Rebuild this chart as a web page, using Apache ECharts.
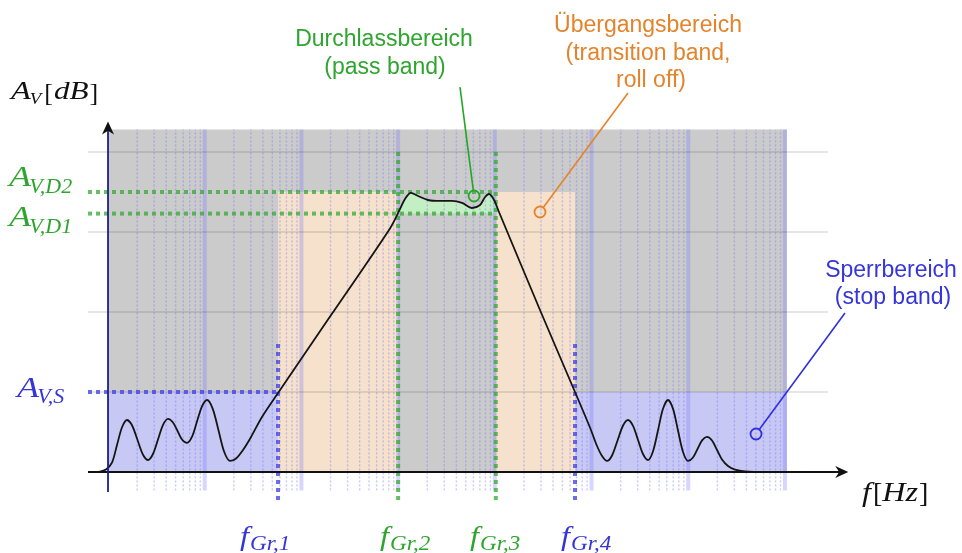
<!DOCTYPE html>
<html><head><meta charset="utf-8">
<script src="https://cdn.jsdelivr.net/npm/echarts@6/dist/echarts.min.js"></script>
<style>html,body{margin:0;padding:0;background:#fff}#c{width:962px;height:553px}</style>
</head><body><div id="c"></div>
<script>
// ---------------- data (log10 frequency, gain in grid units) ----------------
const curveLogF = [-0.207,-0.083,-0.021,0.041,0.093,0.145,0.196,0.248,0.305,0.362,0.414,0.465,0.517,0.569,0.620,0.672,0.719,0.765,0.817,0.869,0.920,0.972,1.024,1.083,1.143,1.202,1.262,1.324,1.396,1.479,1.592,1.758,2.296,2.916,
  3.020,3.071,3.133,3.206,3.309,3.433,3.557,3.661,3.764,3.847,3.899,3.940,3.992,4.043,
  4.467,4.829,4.984,5.057,5.109,5.160,5.212,5.269,5.326,5.377,5.429,5.481,5.532,5.584,5.636,5.688,5.739,5.791,5.843,5.894,5.946,5.998,6.047,6.096,6.145,6.194,6.246,6.298,6.349,6.411,6.484,6.587,6.825];
const curveGain = [0.000,0.006,0.031,0.116,0.338,0.559,0.650,0.584,0.400,0.216,0.150,0.225,0.406,0.588,0.663,0.619,0.513,0.406,0.363,0.441,0.631,0.821,0.900,0.789,0.519,0.250,0.138,0.169,0.275,0.438,0.688,0.988,1.943,3.045,
  3.288,3.413,3.488,3.450,3.400,3.388,3.388,3.363,3.300,3.338,3.438,3.475,3.400,3.250,
  2.025,1.000,0.556,0.325,0.200,0.138,0.206,0.394,0.581,0.650,0.576,0.400,0.225,0.150,0.260,0.525,0.790,0.900,0.789,0.519,0.250,0.138,0.178,0.288,0.398,0.438,0.394,0.275,0.156,0.075,0.031,0.009,0.000];
const passLogF = [2.999,3.020,3.071,3.133,3.206,3.309,3.433,3.557,3.661,3.764,3.847,3.899,3.940,3.992,4.043,4.050];
const passGain = [3.230,3.288,3.413,3.488,3.450,3.400,3.388,3.388,3.363,3.300,3.338,3.438,3.475,3.400,3.250,3.230];
const fGrLog = [1.758, 3.000, 4.010, 4.829];       // f_Gr,1 .. f_Gr,4
const levelStop = 1.0, levelD1 = 3.23, levelD2 = 3.5;
const gridGains = [1, 2, 3, 4];
const plotTopGain = 4.28;
const decades = [0, 1, 2, 3, 4, 5, 6, 7];
const minorMultipliers = [2, 3, 4, 5, 6, 7, 8, 9];
// callouts: [startLogF, startGain, circleLogF, circleGain]
const calloutPass = [3.640, 4.812, 3.785, 3.450];
const calloutTrans = [5.377, 4.737, 4.467, 3.250];
const calloutStop = [7.621, 1.987, 6.701, 0.475];

// ---------------- layout ----------------
const xMinLog = -1.117, xMaxLog = 8.831, yMin = -1.0125, yMax = 5.9;
const F = d => Math.pow(10, d);
const GREEN = '#2ea52e', BLUE = '#3535d8', ORANGE = '#e3842c';
const SMOOTH = 0.3;

function segSeries(list, style, z) {
  return {
    type: 'custom', coordinateSystem: 'cartesian2d', z: z, silent: true,
    data: list, encode: { x: [0, 2], y: [1, 3] },
    renderItem: function (p, api) {
      const a = api.coord([api.value(0), api.value(1)]);
      const b = api.coord([api.value(2), api.value(3)]);
      return { type: 'line', shape: { x1: a[0], y1: a[1], x2: b[0], y2: b[1] }, style: Object.assign({}, style) };
    }
  };
}
function rectSeries(list, colors, z) {
  return {
    type: 'custom', coordinateSystem: 'cartesian2d', z: z, silent: true,
    data: list, encode: { x: [0, 2], y: [1, 3] },
    renderItem: function (p, api) {
      const a = api.coord([api.value(0), api.value(1)]);
      const b = api.coord([api.value(2), api.value(3)]);
      return { type: 'rect', shape: { x: Math.min(a[0], b[0]), y: Math.min(a[1], b[1]), width: Math.abs(b[0] - a[0]), height: Math.abs(b[1] - a[1]) }, style: { fill: colors[p.dataIndex] } };
    }
  };
}
function arrowSeries(list, lineColor, headColor, z) {
  return {
    type: 'custom', coordinateSystem: 'cartesian2d', z: z, silent: true,
    data: list, encode: { x: [0, 2], y: [1, 3] },
    renderItem: function (p, api) {
      const a = api.coord([api.value(0), api.value(1)]);
      const b = api.coord([api.value(2), api.value(3)]);
      const len = Math.hypot(b[0] - a[0], b[1] - a[1]);
      const ux = (b[0] - a[0]) / len, uy = (b[1] - a[1]) / len, nx = -uy, ny = ux;
      const L = 13, W = 6;
      return { type: 'group', children: [
        { type: 'line', shape: { x1: a[0], y1: a[1], x2: b[0] - ux * 6, y2: b[1] - uy * 6 }, style: { stroke: lineColor, lineWidth: 1.8 } },
        { type: 'polygon', shape: { points: [[b[0], b[1]], [b[0] - ux * L + nx * W, b[1] - uy * L + ny * W], [b[0] - ux * L * 0.7, b[1] - uy * L * 0.7], [b[0] - ux * L - nx * W, b[1] - uy * L - ny * W]] }, style: { fill: headColor } }
      ] };
    }
  };
}
function calloutSeries(item, color, z) {
  return {
    type: 'custom', coordinateSystem: 'cartesian2d', z: z, silent: true,
    data: [[F(item[0]), item[1], F(item[2]), item[3]]], encode: { x: [0, 2], y: [1, 3] },
    renderItem: function (p, api) {
      const a = api.coord([api.value(0), api.value(1)]);
      const b = api.coord([api.value(2), api.value(3)]);
      const len = Math.hypot(b[0] - a[0], b[1] - a[1]);
      const ux = (b[0] - a[0]) / len, uy = (b[1] - a[1]) / len, r = 5.5;
      return { type: 'group', children: [
        { type: 'line', shape: { x1: a[0], y1: a[1], x2: b[0] - ux * r, y2: b[1] - uy * r }, style: { stroke: color, lineWidth: 1.6 } },
        { type: 'circle', shape: { cx: b[0], cy: b[1], r: r }, style: { fill: 'none', stroke: color, lineWidth: 1.8 } }
      ] };
    }
  };
}

// grid line lists
const minorLines = [], decadeLines = [];
decades.slice(0, 7).forEach(k => minorMultipliers.forEach(m => minorLines.push([m * F(k), -0.23, m * F(k), plotTopGain])));
decades.slice(1).forEach(k => decadeLines.push([F(k), -0.23, F(k), plotTopGain]));
const hLines = gridGains.map(g => [F(-0.207), g, F(7.446), g]);

const rects = [
  [F(0), 0, F(7.02), plotTopGain],
  [F(fGrLog[0]), 0, F(fGrLog[1]), levelD2],
  [F(fGrLog[2]), 0, F(fGrLog[3]), levelD2],
  [F(0), 0, F(fGrLog[0]), levelStop],
  [F(fGrLog[3]), 0, F(7.02), levelStop]
];
const rectColors = ['#cbcbcb', '#f6e1cc', '#f6e1cc', '#c8c8f4', '#c8c8f4'];

const greenDots = [
  [F(-0.207), levelD2, F(fGrLog[2]), levelD2],
  [F(-0.207), levelD1, F(fGrLog[2]), levelD1],
  [F(fGrLog[1]), -0.35, F(fGrLog[1]), 4.02],
  [F(fGrLog[2]), -0.35, F(fGrLog[2]), 4.02]
];
const blueDots = [
  [F(-0.207), levelStop, F(fGrLog[0]), levelStop],
  [F(fGrLog[0]), -0.35, F(fGrLog[0]), 1.63],
  [F(fGrLog[3]), -0.35, F(fGrLog[3]), 1.63]
];

const series = [
  rectSeries(rects, rectColors, 1),
  {
    type: 'line', z: 2, silent: true, smooth: SMOOTH, showSymbol: false, symbol: 'none',
    data: passLogF.map((d, i) => [F(d), passGain[i]]),
    lineStyle: { width: 0 }, areaStyle: { color: '#c4eec4', opacity: 1, origin: levelD1 }
  },
  segSeries(minorLines, { stroke: 'rgba(110,110,255,0.38)', lineWidth: 1.4, lineDash: [2, 2] }, 3),
  segSeries(decadeLines, { stroke: 'rgba(120,120,255,0.30)', lineWidth: 4 }, 3),
  segSeries(hLines, { stroke: 'rgba(0,0,0,0.2)', lineWidth: 1 }, 3),
  segSeries(greenDots, { stroke: 'rgba(50,170,50,0.75)', lineWidth: 4, lineDash: [4, 4] }, 4),
  segSeries(blueDots, { stroke: 'rgba(60,60,230,0.75)', lineWidth: 4, lineDash: [4, 4] }, 4),
  {
    type: 'line', z: 5, silent: true, smooth: SMOOTH, showSymbol: false, symbol: 'none',
    data: curveLogF.map((d, i) => [F(d), curveGain[i]]),
    lineStyle: { color: '#151515', width: 1.8 }
  },
  arrowSeries([[F(-0.207), 0, F(7.655), 0]], '#111', '#111', 6),
  arrowSeries([[F(0), -0.25, F(0), 4.38]], '#1e1e8a', '#111', 6),
  calloutSeries(calloutPass, '#22a822', 7),
  calloutSeries(calloutTrans, ORANGE, 7),
  calloutSeries(calloutStop, '#3030dd', 7)
];

// ---------------- text ----------------
const SANS = '23px "Liberation Sans", Arial, sans-serif';
const mctx = document.createElement('canvas').getContext('2d');
function t(text, x, y, font, fill, align, sx) {
  return { type: 'text', z: 100, silent: true, x: x, y: y, scaleX: sx || 1,
    style: { text: text, x: 0, y: 0, font: font, fill: fill, align: align || 'left', textAlign: align || 'left', verticalAlign: 'middle', textVerticalAlign: 'middle' } };
}
// math run: parts = [text, size, baselineOffset, upright?, scaleX?, gapBefore?]
function math(x, base, fill, parts) {
  const out = [];
  let cx = x;
  parts.forEach(p => {
    const [text, size, dy, upright, sx, gap] = p;
    const font = (upright ? '' : 'italic ') + size + 'px "Liberation Serif", serif';
    cx += gap || 0;
    out.push(t(text, cx, base + dy - 0.31 * size, font, fill, 'left', sx || 1));
    mctx.font = font;
    cx += mctx.measureText(text).width * (sx || 1);
  });
  return out;
}
const graphic = [].concat(
  [
    t('Durchlassbereich', 384, 40, SANS, GREEN, 'center'),
    t('(pass band)', 385, 68, SANS, GREEN, 'center'),
    t('Übergangsbereich', 648, 26, SANS, ORANGE, 'center'),
    t('(transition band,', 648, 54, SANS, ORANGE, 'center'),
    t('roll off)', 651, 81, SANS, ORANGE, 'center'),
    t('Sperrbereich', 891, 271, SANS, BLUE, 'center'),
    t('(stop band)', 893, 298, SANS, BLUE, 'center')
  ],
  math(11, 100, '#111', [['A', 26, 0, false, 1.25], ['V', 17, 5, false, 1.1, -1], ['[', 26, 2, true, 1, 3], ['dB', 26, 0, false, 1.2, 1], [']', 26, 2, true, 1, 1]]),
  math(9, 187, GREEN, [['A', 29, 0, false, 1.25], ['V,D2', 20, 7, false, 1.1, -2]]),
  math(9, 227, GREEN, [['A', 29, 0, false, 1.25], ['V,D1', 20, 7, false, 1.1, -2]]),
  math(17, 398, BLUE, [['A', 29, 0, false, 1.25], ['V,S', 20, 6, false, 1.1, -2]]),
  math(240, 546, BLUE, [['f', 28, 0, false, 1.15], ['Gr,1', 21, 5, false, 1.1, 1]]),
  math(380, 546, GREEN, [['f', 28, 0, false, 1.15], ['Gr,2', 21, 5, false, 1.1, 1]]),
  math(470, 546, GREEN, [['f', 28, 0, false, 1.15], ['Gr,3', 21, 5, false, 1.1, 1]]),
  math(561, 546, BLUE, [['f', 28, 0, false, 1.15], ['Gr,4', 21, 5, false, 1.1, 1]]),
  math(862, 502, '#111', [['f', 28, 0, false, 1.15], ['[', 28, 1, true, 1, 2], ['Hz', 28, 0, false, 1.15, 0], [']', 28, 1, true, 1, 1]])
);

const chart = echarts.init(document.getElementById('c'), null, { renderer: 'canvas' });
chart.setOption({
  animation: false,
  backgroundColor: '#fff',
  grid: { left: 0, right: 0, top: 0, bottom: 0, containLabel: false },
  xAxis: { type: 'log', logBase: 10, min: F(xMinLog), max: F(xMaxLog), show: false },
  yAxis: { type: 'value', min: yMin, max: yMax, show: false },
  series: series,
  graphic: graphic
});
</script></body></html>
